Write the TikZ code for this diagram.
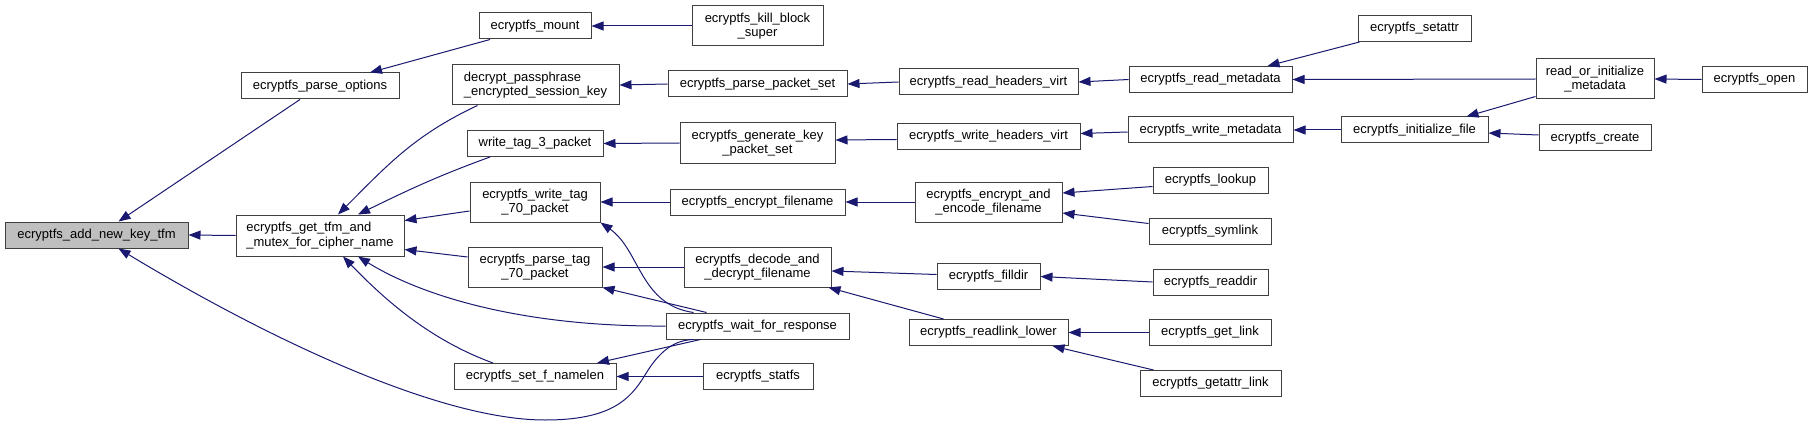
\documentclass[tikz,border=0pt]{standalone}
\usepackage{fontspec}
\setmainfont{Liberation Sans}
\usepackage{tikz}
\usetikzlibrary{arrows.meta, positioning}

\definecolor{edgeblue}{HTML}{191970}
\definecolor{nodegray}{HTML}{BFBFBF}

\begin{document}
\begin{tikzpicture}[x=1pt, y=1pt,
    fn/.style={draw=black!75, line width=1pt, fill=white, inner sep=0pt,
        minimum height=26pt, align=center, font=\fontsize{13}{14.5}\selectfont},
    tall/.style={minimum height=40pt},
    calls/.style={edgeblue, line width=1pt, {Triangle[length=12pt, width=9pt]}-}]
    \useasboundingbox (0,0) rectangle (1812,-425);

    % first column
    \node[fn, fill=nodegray, minimum width=183pt] (addkey) at (96.5,-235) {ecryptfs\_add\_new\_key\_tfm};
    \node[fn, minimum width=158pt] (parseopt) at (320,-86) {ecryptfs\_parse\_options};
    \node[fn, tall, align=left, minimum width=168pt, minimum height=41pt] (gettfm) at (320,-235.5) {ecryptfs\_get\_tfm\_and\\\_mutex\_for\_cipher\_name};

    % second column
    \node[fn, minimum width=112pt] (mount) at (535,-26) {ecryptfs\_mount};
    \node[fn, tall, align=left, minimum width=167pt] (decrypt) at (535.5,-85) {decrypt\_passphrase\\\_encrypted\_session\_key};
    \node[fn, minimum width=136pt] (wtag3) at (535,-143.5) {write\_tag\_3\_packet};
    \node[fn, tall, minimum width=130pt] (wtag70) at (535,-202) {ecryptfs\_write\_tag\\\_70\_packet};
    \node[fn, tall, minimum width=134pt] (ptag70) at (535,-267) {ecryptfs\_parse\_tag\\\_70\_packet};
    \node[fn, minimum width=162pt] (setfn) at (535,-376.5) {ecryptfs\_set\_f\_namelen};

    % third column
    \node[fn, tall, minimum width=131pt] (killblock) at (757.5,-26) {ecryptfs\_kill\_block\\\_super};
    \node[fn, minimum width=179pt] (parsepkt) at (757.5,-84) {ecryptfs\_parse\_packet\_set};
    \node[fn, tall, minimum width=155pt] (genkey) at (757.5,-143) {ecryptfs\_generate\_key\\\_packet\_set};
    \node[fn, minimum width=175pt] (encfn) at (757.5,-202) {ecryptfs\_encrypt\_filename};
    \node[fn, tall, minimum width=147pt] (decode) at (757.5,-267) {ecryptfs\_decode\_and\\\_decrypt\_filename};
    \node[fn, minimum width=183pt] (waitresp) at (757.5,-326) {ecryptfs\_wait\_for\_response};
    \node[fn, minimum width=110pt] (statfs) at (758,-376.5) {ecryptfs\_statfs};

    % fourth column
    \node[fn, minimum width=179pt] (readhdr) at (988.5,-82) {ecryptfs\_read\_headers\_virt};
    \node[fn, minimum width=183pt] (writehdr) at (988.5,-136.5) {ecryptfs\_write\_headers\_virt};
    \node[fn, tall, minimum width=147pt] (encenc) at (988.5,-202) {ecryptfs\_encrypt\_and\\\_encode\_filename};
    \node[fn, minimum width=103pt] (filldir) at (988.5,-276.5) {ecryptfs\_filldir};
    \node[fn, minimum width=159pt] (readlink) at (988.5,-332.5) {ecryptfs\_readlink\_lower};

    % fifth column
    \node[fn, minimum width=163pt] (readmeta) at (1210.5,-79.5) {ecryptfs\_read\_metadata};
    \node[fn, minimum width=165pt] (writemeta) at (1210.5,-130) {ecryptfs\_write\_metadata};
    \node[fn, minimum width=115pt] (lookup) at (1210.5,-180.5) {ecryptfs\_lookup};
    \node[fn, minimum width=122pt] (symlink) at (1210,-231.5) {ecryptfs\_symlink};
    \node[fn, minimum width=115pt] (readdir) at (1210.5,-282) {ecryptfs\_readdir};
    \node[fn, minimum width=122pt] (getlink) at (1210,-332.5) {ecryptfs\_get\_link};
    \node[fn, minimum width=141pt] (getattr) at (1210.5,-383.5) {ecryptfs\_getattr\_link};

    % last columns
    \node[fn, minimum width=113pt] (setattr) at (1414.5,-28.5) {ecryptfs\_setattr};
    \node[fn, minimum width=147pt] (initfile) at (1414.5,-130) {ecryptfs\_initialize\_file};
    \node[fn, tall, minimum width=118pt] (readinit) at (1595,-79) {read\_or\_initialize\\\_metadata};
    \node[fn, minimum width=112pt] (create) at (1595,-138) {ecryptfs\_create};
    \node[fn, minimum width=105pt] (open) at (1754.5,-79.5) {ecryptfs\_open};

    % callers of ecryptfs_add_new_key_tfm
    \draw[calls] ([xshift=22]addkey.north) -- ([xshift=-20]parseopt.south);
    \draw[calls] (addkey.east) -- (gettfm.west);
    \draw[calls] ([xshift=22]addkey.south) .. controls (270,-340) and (440,-420) .. (545,-420)
        .. controls (610,-420) and (630,-400) .. (645,-375)
        .. controls (660,-350) and (675,-340) .. ([xshift=-64]waitresp.south);
    \draw[calls] ([xshift=50]parseopt.north) -- ([xshift=-45]mount.south);
    \draw[calls] (mount.east) -- (killblock.west);

    % callers of ecryptfs_get_tfm_and_mutex_for_cipher_name
    \draw[calls] ([xshift=18]gettfm.north) to[out=45, in=-155] ([xshift=-58]decrypt.south);
    \draw[calls] ([xshift=38]gettfm.north) to[out=26, in=-160] ([xshift=-45]wtag3.south);
    \draw[calls] ([yshift=15]gettfm.east) -- ([yshift=-9]wtag70.west);
    \draw[calls] ([yshift=-14]gettfm.east) -- ([yshift=10]ptag70.west);
    \draw[calls] ([xshift=38]gettfm.south) .. controls (420,-295) and (520,-327) .. (waitresp.west);
    \draw[calls] ([xshift=23]gettfm.south) .. controls (385,-300) and (430,-340) .. ([xshift=-42]setfn.north);

    % read path
    \draw[calls] (decrypt.east) -- (parsepkt.west);
    \draw[calls] (parsepkt.east) -- (readhdr.west);
    \draw[calls] (readhdr.east) -- (readmeta.west);
    \draw[calls] ([xshift=57]readmeta.north) -- ([xshift=-55]setattr.south);
    \draw[calls] (readmeta.east) -- (readinit.west);
    \draw[calls] (readinit.east) -- (open.west);

    % write path
    \draw[calls] (wtag3.east) -- (genkey.west);
    \draw[calls] ([yshift=3]genkey.east) -- ([yshift=-3]writehdr.west);
    \draw[calls] ([yshift=3]writehdr.east) -- ([yshift=-2]writemeta.west);
    \draw[calls] (writemeta.east) -- (initfile.west);
    \draw[calls] ([xshift=52]initfile.north) -- ([yshift=3]readinit.south west);
    \draw[calls] ([yshift=-3]initfile.east) -- ([yshift=3]create.west);

    % filename paths
    \draw[calls] (wtag70.east) -- (encfn.west);
    \draw[calls] (encfn.east) -- (encenc.west);
    \draw[calls] ([yshift=9]encenc.east) -- ([yshift=-6]lookup.west);
    \draw[calls] ([yshift=-11]encenc.east) -- ([yshift=8]symlink.west);
    \draw[calls] (wtag70.south east) .. controls (640,-250) and (640,-305) .. ([xshift=-64]waitresp.north);
    \draw[calls] (ptag70.east) -- (decode.west);
    \draw[calls] (ptag70.south east) -- ([xshift=-51]waitresp.north);
    \draw[calls] ([yshift=-4]decode.east) -- ([yshift=2]filldir.west);
    \draw[calls] ([xshift=-3]decode.south east) -- ([xshift=-45]readlink.north);
    \draw[calls] (filldir.east) -- (readdir.west);
    \draw[calls] (readlink.east) -- (getlink.west);
    \draw[calls] ([xshift=64]readlink.south) -- ([xshift=-57]getattr.north);

    % ecryptfs_set_f_namelen
    \draw[calls] ([xshift=62]setfn.north) -- ([xshift=-57]waitresp.south);
    \draw[calls] (setfn.east) -- (statfs.west);
\end{tikzpicture}
\end{document}
